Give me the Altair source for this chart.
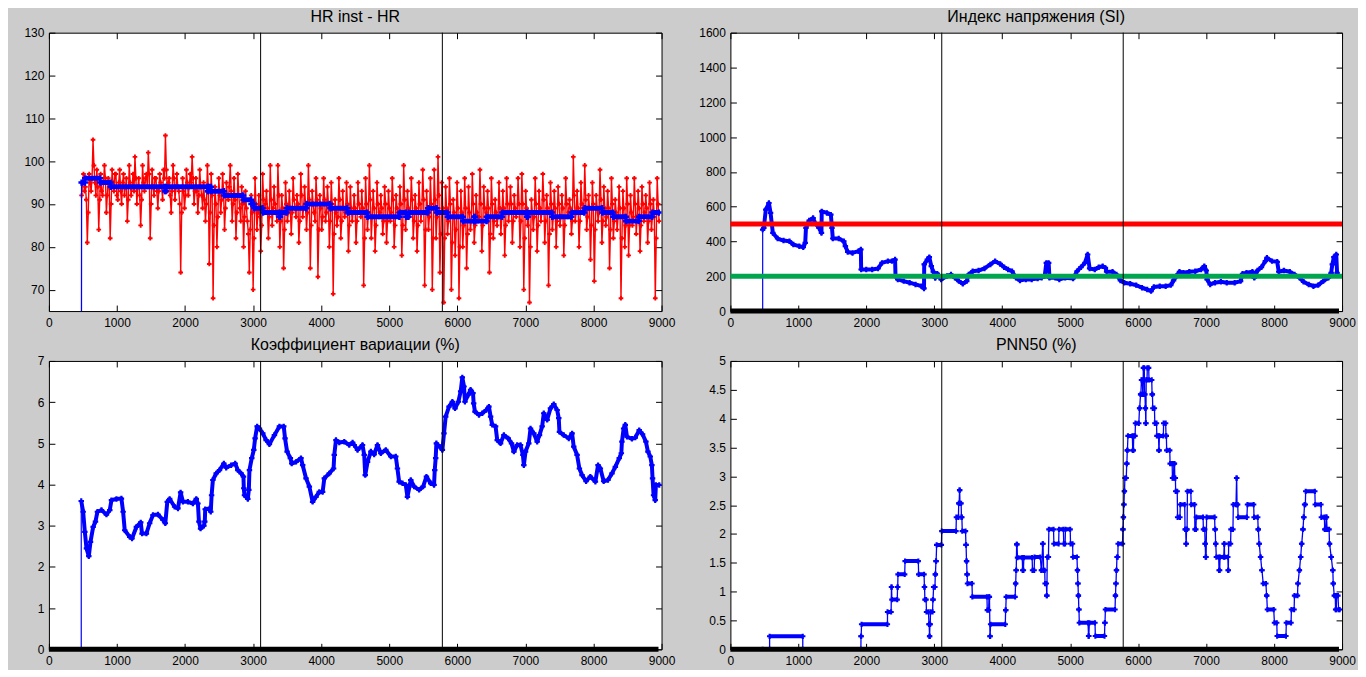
import altair as alt
import pandas as pd

# ---------------- data ----------------
X_DOMAIN = [0, 9000]
X_TICKS = [0, 1000, 2000, 3000, 4000, 5000, 6000, 7000, 8000, 9000]
EVENT_X = [3110, 5780]

TITLES = ["HR inst - HR", "Индекс напряжения (SI)", "Коэффициент вариации (%)", "PNN50 (%)"]

HR_Y_DOMAIN = [65, 130]
HR_Y_TICKS = [70, 80, 90, 100, 110, 120, 130]
SI_Y_DOMAIN = [0, 1600]
SI_Y_TICKS = [0, 200, 400, 600, 800, 1000, 1200, 1400, 1600]
CV_Y_DOMAIN = [0, 7]
CV_Y_TICKS = [0, 1, 2, 3, 4, 5, 6, 7]
PNN_Y_DOMAIN = [0, 5]
PNN_Y_TICKS = [0, 0.5, 1, 1.5, 2, 2.5, 3, 3.5, 4, 4.5, 5]

# instantaneous heart rate, one value every 14 samples from 480
HR_INST_START = 480
HR_INST_STEP = 14
HR_INST = [
    92, 95, 97, 93, 94, 91, 81, 88, 97, 95, 93, 96, 105, 99, 95, 92, 98, 94, 84, 91,
    97, 93, 92, 95, 99, 96, 88, 92, 96, 94, 82, 90, 98, 95, 93, 97, 97, 92, 91, 95,
    98, 93, 90, 95, 97, 92, 94, 96, 86, 91, 99, 95, 92, 94, 97, 93, 101, 96, 90, 94,
    96, 92, 85, 91, 99, 95, 93, 96, 97, 94, 102, 97, 82, 90, 98, 94, 92, 96, 96, 93,
    89, 93, 97, 95, 94, 91, 98, 96, 106, 98, 93, 95, 96, 92, 88, 93, 99, 96, 91, 94,
    97, 94, 93, 90, 74, 88, 96, 93, 89, 92, 98, 95, 92, 94, 97, 95, 101, 96, 90, 93,
    96, 93, 88, 92, 98, 94, 92, 89, 95, 91, 86, 90, 99, 94, 76, 88, 97, 92, 68, 85,
    94, 90, 80, 87, 96, 92, 88, 91, 97, 93, 84, 89, 95, 92, 91, 94, 99, 93, 86, 90,
    96, 91, 82, 88, 97, 92, 89, 86, 94, 90, 80, 87, 93, 89, 86, 83, 74, 84, 92, 88,
    70, 82, 96, 90, 84, 88, 92, 87, 79, 85, 97, 91, 88, 90, 93, 89, 82, 87, 99, 91,
    85, 89, 94, 90, 88, 86, 99, 92, 80, 86, 92, 89, 75, 84, 95, 90, 86, 88, 93, 89,
    83, 88, 96, 91, 89, 87, 92, 90, 81, 86, 97, 92, 87, 89, 94, 90, 84, 88, 99, 91,
    75, 85, 93, 90, 88, 86, 96, 91, 73, 84, 92, 89, 84, 87, 96, 91, 86, 88, 94, 90,
    80, 86, 95, 90, 69, 83, 91, 88, 85, 87, 96, 91, 82, 86, 93, 89, 87, 88, 95, 90,
    79, 85, 94, 89, 86, 88, 92, 89, 81, 86, 95, 90, 88, 87, 93, 89, 71, 82, 96, 90,
    84, 88, 99, 91, 82, 87, 93, 89, 79, 85, 95, 90, 87, 88, 92, 89, 83, 86, 94, 90,
    81, 86, 93, 89, 86, 88, 96, 91, 80, 85, 92, 89, 88, 87, 94, 90, 78, 85, 99, 91,
    84, 88, 93, 89, 87, 88, 96, 91, 82, 86, 92, 89, 79, 85, 95, 90, 86, 88, 98, 91,
    71, 84, 93, 89, 84, 87, 96, 90, 70, 82, 98, 91, 82, 87, 101, 92, 74, 83, 95, 89,
    67, 82, 94, 89, 83, 86, 96, 90, 70, 81, 91, 88, 78, 84, 95, 89, 68, 80, 93, 88,
    80, 85, 96, 89, 75, 83, 94, 88, 84, 86, 97, 90, 81, 85, 92, 88, 86, 87, 98, 90,
    79, 85, 94, 89, 87, 88, 93, 89, 74, 83, 96, 90, 82, 86, 91, 88, 85, 87, 95, 89,
    83, 87, 93, 89, 78, 85, 96, 90, 86, 88, 94, 90, 81, 86, 92, 89, 87, 88, 96, 90,
    80, 86, 97, 90, 70, 82, 93, 89, 85, 87, 67, 80, 91, 88, 84, 87, 96, 90, 79, 85,
    93, 89, 86, 88, 97, 91, 81, 86, 92, 89, 71, 83, 95, 90, 84, 87, 93, 89, 80, 86,
    94, 90, 85, 87, 92, 89, 78, 85, 96, 90, 87, 88, 91, 89, 83, 86, 101, 92, 86, 88,
    93, 89, 80, 86, 95, 90, 88, 89, 99, 91, 84, 87, 92, 89, 77, 85, 95, 90, 72, 84,
    92, 89, 86, 88, 98, 91, 81, 86, 94, 89, 85, 87, 93, 89, 75, 84, 96, 90, 82, 86,
    91, 88, 84, 87, 94, 89, 68, 82, 93, 89, 80, 85, 96, 90, 78, 85, 92, 88, 85, 87,
    96, 90, 83, 87, 93, 89, 79, 85, 94, 90, 86, 88, 92, 89, 81, 86, 95, 90, 84, 87,
    91, 87, 68, 82, 96, 90, 86,
]

# mean HR, stepwise levels: start x, end x, value
HR_LEVEL_X1 = [475, 480, 532, 755, 910, 1705, 1720, 2335, 2350, 2385, 2575, 2860, 2975, 3015, 3145,
               3385, 3400, 3495, 3785, 4135, 4390, 4680, 5155, 5250, 5285, 5570, 5700, 5860, 6085,
               6250, 6265, 6435, 6660, 7025, 7040, 7395, 7680, 7870, 8130, 8290, 8480, 8670, 8865]
HR_LEVEL_X2 = [475, 527, 750, 905, 1700, 1715, 2330, 2345, 2380, 2570, 2855, 2970, 3010, 3140, 3380,
               3395, 3490, 3780, 4130, 4385, 4675, 5150, 5245, 5280, 5565, 5695, 5855, 6080, 6245,
               6260, 6430, 6655, 7020, 7035, 7390, 7675, 7865, 8125, 8285, 8475, 8665, 8860, 8960]
HR_LEVEL_V = [0, 95, 96, 95, 94, 93, 94, 93, 94, 93, 92, 91, 90, 89, 88,
              87, 88, 89, 90, 89, 88, 87, 88, 87, 88, 89, 88, 87, 86,
              87, 86, 87, 88, 87, 88, 87, 88, 89, 88, 87, 86, 87, 88]

# stress index (SI)
SI_X = [475, 475, 492, 521, 567, 591, 608, 625, 695, 782, 869, 927, 1014, 1072, 1101, 1112, 1159, 1217,
        1246, 1304, 1340, 1344, 1420, 1478, 1495, 1507, 1594, 1669, 1692, 1727, 1797, 1884, 1920, 1924,
        1999, 2086, 2173, 2231, 2318, 2376, 2423, 2430, 2463, 2550, 2637, 2724, 2811, 2849, 2852, 2898,
        2927, 2956, 2985, 3014, 3043, 3101, 3188, 3246, 3304, 3362, 3420, 3478, 3507, 3565, 3652, 3739,
        3826, 3895, 3970, 4028, 4086, 4144, 4202, 4260, 4347, 4434, 4521, 4579, 4625, 4649, 4683, 4695,
        4782, 4840, 4927, 5043, 5101, 5159, 5217, 5257, 5286, 5362, 5420, 5478, 5518, 5536, 5623, 5681,
        5739, 5797, 5883, 5970, 6057, 6133, 6190, 6231, 6318, 6405, 6480, 6521, 6562, 6608, 6666, 6753,
        6840, 6927, 6973, 7002, 7014, 7060, 7130, 7217, 7304, 7420, 7507, 7536, 7594, 7681, 7709, 7756,
        7814, 7872, 7895, 7970, 8046, 8069, 8144, 8231, 8301, 8376, 8434, 8510, 8579, 8649, 8724, 8799,
        8840, 8857, 8880, 8915, 8927]
SI_V = [0, 468, 478, 583, 621, 564, 506, 449, 417, 405, 401, 382, 373, 367, 392, 478, 520, 535,
        506, 478, 449, 573, 564, 554, 478, 417, 417, 401, 373, 340, 334, 344, 354, 239,
        239, 239, 245, 277, 287, 287, 296, 201, 182, 172, 163, 153, 143, 130, 268, 296,
        310, 258, 226, 190, 215, 182, 201, 210, 191, 172, 157, 172, 210, 229, 233, 245,
        268, 287, 271, 252, 239, 229, 191, 176, 182, 182, 187, 191, 201, 277, 277, 191,
        191, 182, 191, 187, 229, 252, 277, 325, 245, 239, 252, 258, 248, 226, 226, 210,
        176, 163, 157, 149, 134, 124, 115, 138, 143, 143, 149, 176, 201, 226, 220, 226,
        229, 239, 258, 233, 182, 153, 163, 168, 163, 163, 172, 214, 220, 226, 191, 233,
        252, 287, 306, 287, 283, 226, 233, 226, 210, 191, 168, 153, 143, 149, 172, 191,
        220, 268, 310, 325, 220]
SI_HIGH = 500
SI_LOW = 200

# coefficient of variation (%)
CV_X = [475, 475, 503, 528, 552, 586, 611, 650, 684, 713, 772, 845, 894, 919, 992, 1065, 1090, 1114,
        1187, 1221, 1285, 1349, 1368, 1432, 1480, 1529, 1603, 1676, 1710, 1739, 1774, 1847, 1896, 1935,
        1969, 2042, 2116, 2165, 2189, 2204, 2228, 2277, 2290, 2296, 2360, 2378, 2390, 2409, 2458, 2506,
        2570, 2604, 2677, 2736, 2775, 2824, 2858, 2863, 2873, 2922, 2937, 2946, 2980, 3010, 3029, 3059,
        3093, 3142, 3191, 3239, 3313, 3386, 3450, 3469, 3499, 3547, 3567, 3630, 3703, 3728, 3777, 3826,
        3874, 3923, 3972, 4021, 4046, 4119, 4182, 4192, 4217, 4265, 4339, 4412, 4461, 4485, 4534, 4607,
        4632, 4647, 4681, 4730, 4778, 4827, 4876, 4949, 5023, 5096, 5120, 5145, 5194, 5243, 5267, 5316,
        5365, 5438, 5497, 5546, 5609, 5658, 5668, 5682, 5692, 5741, 5780, 5804, 5829, 5878, 5927, 5966,
        6015, 6049, 6073, 6098, 6112, 6161, 6195, 6230, 6240, 6259, 6318, 6367, 6425, 6464, 6489, 6513,
        6562, 6586, 6635, 6684, 6748, 6796, 6831, 6879, 6928, 6963, 6977, 7002, 7050, 7075, 7124, 7173,
        7207, 7246, 7270, 7319, 7368, 7417, 7466, 7490, 7500, 7563, 7637, 7686, 7710, 7759, 7793, 7832,
        7891, 7954, 8028, 8067, 8101, 8150, 8213, 8272, 8321, 8379, 8409, 8418, 8443, 8467, 8492, 8565,
        8614, 8672, 8721, 8770, 8800, 8834, 8858, 8868, 8883, 8907, 8917, 8966]
CV_V = [0, 3.60, 3.34, 2.85, 2.45, 2.26, 2.61, 2.97, 3.10, 3.34, 3.38, 3.27, 3.38, 3.62, 3.65, 3.66, 3.34, 2.89,
        2.73, 2.69, 2.97, 3.08, 2.81, 2.81, 3.06, 3.26, 3.27, 3.14, 3.06, 3.58, 3.65, 3.46, 3.42, 3.81,
        3.58, 3.58, 3.54, 3.65, 3.54, 3.10, 2.93, 3.00, 3.10, 3.40, 3.42, 3.34, 3.74, 4.11, 4.27, 4.35,
        4.51, 4.41, 4.47, 4.51, 4.35, 4.27, 4.19, 3.91, 3.74, 3.65, 3.87, 4.35, 4.64, 4.84, 5.12, 5.41,
        5.36, 5.24, 5.08, 4.98, 5.20, 5.41, 5.41, 5.12, 4.80, 4.64, 4.51, 4.55, 4.64, 4.47, 4.15, 3.95,
        3.58, 3.70, 3.82, 3.82, 4.15, 4.27, 4.39, 4.72, 5.08, 5.02, 5.04, 4.96, 5.02, 4.96, 4.84, 4.96,
        4.72, 4.23, 4.55, 4.80, 4.73, 4.96, 4.76, 4.84, 4.68, 4.68, 4.39, 4.07, 4.03, 3.99, 3.70, 4.11,
        3.95, 3.87, 3.95, 4.19, 4.03, 3.99, 4.35, 4.64, 5.00, 4.92, 4.84, 5.24, 5.65, 5.89, 6.01, 5.85,
        6.01, 6.26, 6.60, 6.38, 6.01, 6.18, 6.30, 6.22, 5.97, 5.77, 5.69, 5.73, 5.81, 5.89, 5.65, 5.45,
        5.41, 5.08, 5.00, 5.20, 5.12, 5.00, 4.80, 4.96, 4.96, 4.72, 4.47, 4.80, 5.00, 5.36, 5.24, 5.04,
        5.20, 5.41, 5.73, 5.57, 5.85, 5.95, 5.81, 5.61, 5.28, 5.20, 5.12, 5.24, 4.92, 4.72, 4.39, 4.23,
        4.08, 4.19, 4.07, 4.47, 4.39, 4.08, 4.11, 4.27, 4.43, 4.64, 4.76, 5.04, 5.36, 5.45, 5.16, 5.11,
        5.14, 5.32, 5.22, 5.04, 4.80, 4.68, 4.47, 4.15, 3.74, 3.62, 3.99, 3.99]

# PNN50 (%), stepwise levels: start x, end x, value
PNN_LEVELS = [
    (475, 577, 0), (577, 1065, 0.226), (1065, 1920, 0), (1922, 1924, 0.226), (1930, 2311, 0.434),
    (2312, 2365, 0.648), (2370, 2372, 1.08), (2376, 2455, 0.862), (2460, 2462, 1.08), (2466, 2565, 1.30),
    (2570, 2765, 1.53), (2770, 2850, 1.30), (2855, 2857, 1.08), (2862, 2880, 0.862), (2885, 2915, 0.648),
    (2922, 2925, 0.434), (2930, 2932, 0.226), (2936, 2940, 0.434), (2945, 2975, 0.648), (2980, 2982, 0.862),
    (2990, 3010, 1.08), (3015, 3017, 1.30), (3025, 3027, 1.53), (3035, 3105, 1.81), (3110, 3320, 2.05),
    (3325, 3355, 2.29), (3360, 3366, 2.53), (3372, 3374, 2.76), (3378, 3395, 2.53), (3400, 3406, 2.29),
    (3412, 3460, 2.05), (3466, 3468, 1.81), (3474, 3476, 1.53), (3482, 3484, 1.30), (3488, 3555, 1.14),
    (3560, 3775, 0.91), (3780, 3800, 0.68), (3805, 3812, 0.91), (3820, 3822, 0.226), (3828, 4045, 0.434),
    (4050, 4052, 0.68), (4058, 4190, 0.91), (4196, 4198, 1.14), (4204, 4206, 1.37), (4212, 4218, 1.82),
    (4224, 4295, 1.59), (4300, 4312, 1.37), (4318, 4440, 1.59), (4445, 4470, 1.37), (4475, 4560, 1.60),
    (4575, 4580, 1.37), (4595, 4600, 1.83), (4610, 4625, 1.37), (4630, 4650, 1.14), (4655, 4657, 0.93),
    (4662, 4680, 1.60), (4686, 4755, 2.08), (4760, 4830, 1.83), (4835, 4900, 2.08), (4905, 4925, 1.83),
    (4930, 5000, 2.08), (5005, 5035, 1.83), (5040, 5100, 1.60), (5106, 5108, 1.37), (5113, 5115, 1.14),
    (5120, 5122, 0.93), (5127, 5129, 0.69), (5134, 5262, 0.46), (5270, 5274, 0.23), (5282, 5365, 0.46),
    (5370, 5505, 0.23), (5510, 5512, 0.46), (5518, 5660, 0.69), (5665, 5667, 0.93), (5672, 5674, 1.14),
    (5680, 5682, 1.37), (5688, 5700, 1.60), (5705, 5770, 1.83), (5775, 5777, 2.08), (5782, 5784, 2.29),
    (5789, 5791, 2.51), (5797, 5799, 2.74), (5805, 5825, 2.97), (5832, 5834, 3.22), (5840, 5842, 3.45),
    (5850, 5915, 3.70), (5920, 5930, 3.45), (5935, 5955, 3.70), (5960, 6010, 3.92), (6020, 6022, 4.18),
    (6035, 6040, 4.42), (6048, 6062, 4.67), (6068, 6072, 4.42), (6076, 6090, 4.88), (6095, 6100, 4.42),
    (6106, 6108, 4.18), (6112, 6114, 3.92), (6118, 6130, 4.67), (6135, 6155, 4.88), (6160, 6200, 4.67),
    (6205, 6210, 4.42), (6215, 6240, 4.18), (6245, 6270, 3.92), (6275, 6300, 3.70), (6305, 6308, 3.45),
    (6312, 6370, 3.70), (6375, 6405, 3.92), (6410, 6415, 3.70), (6420, 6465, 3.45), (6470, 6500, 3.22),
    (6505, 6520, 2.97), (6525, 6535, 3.22), (6540, 6548, 2.97), (6552, 6575, 2.74), (6580, 6615, 2.29),
    (6620, 6685, 2.51), (6690, 6700, 2.08), (6705, 6707, 1.83), (6712, 6720, 2.08), (6725, 6775, 2.74),
    (6780, 6830, 2.51), (6835, 6850, 2.08), (6855, 6955, 2.29), (6960, 6980, 2.08), (6985, 6987, 1.83),
    (6992, 7000, 1.60), (7007, 7125, 2.29), (7130, 7135, 2.08), (7140, 7142, 1.83), (7150, 7185, 1.60),
    (7190, 7200, 1.37), (7205, 7260, 1.60), (7266, 7268, 1.83), (7272, 7320, 1.60), (7325, 7327, 1.37),
    (7332, 7360, 1.83), (7365, 7395, 2.08), (7400, 7440, 2.51), (7448, 7450, 2.97), (7455, 7465, 2.51),
    (7471, 7600, 2.29), (7608, 7700, 2.51), (7705, 7760, 2.29), (7766, 7768, 2.08), (7780, 7782, 1.83),
    (7800, 7802, 1.60), (7820, 7822, 1.37), (7840, 7880, 1.14), (7890, 7892, 0.93), (7901, 7995, 0.69),
    (8005, 8040, 0.46), (8045, 8175, 0.23), (8180, 8250, 0.46), (8255, 8295, 0.69), (8300, 8345, 0.93),
    (8350, 8352, 1.14), (8372, 8374, 1.37), (8390, 8392, 1.60), (8405, 8407, 1.83), (8424, 8426, 2.08),
    (8436, 8438, 2.29), (8448, 8460, 2.51), (8465, 8600, 2.74), (8605, 8690, 2.51), (8695, 8740, 2.29),
    (8745, 8760, 2.08), (8768, 8772, 2.29), (8780, 8810, 2.08), (8815, 8817, 1.83), (8840, 8842, 1.60),
    (8863, 8865, 1.37), (8870, 8872, 1.14), (8885, 8900, 0.93), (8905, 8915, 0.69), (8920, 8940, 0.93),
    (8950, 8965, 0.69),
]

# zero baseline series drawn along y = 0
BASE_X = [0, 8955]
BASE_V = [0, 0]

# ---------------- helpers ----------------
BLUE = "#0000ff"
RED = "#ff0000"
GREEN = "#00a550"
FONT = "Liberation Sans"
TICK = 6


def xs():
    return alt.Scale(domain=X_DOMAIN, nice=False, zero=False)


def ys(dom):
    return alt.Scale(domain=dom, nice=False, zero=False)


def series_df(x, v):
    return pd.DataFrame({"x": x, "y": v, "i": list(range(len(x)))})


def levels_df(levels):
    return pd.DataFrame({"x": [a for a, b, c in levels], "x2": [b for a, b, c in levels],
                         "y": [c for a, b, c in levels]})


def level_points(levels):
    xs_, vs_ = [], []
    for a, b, c in levels:
        xs_ += [a, b]
        vs_ += [c, c]
    return series_df(xs_, vs_)


def X(name="x"):
    return alt.X(f"{name}:Q", scale=xs(), axis=None)


def Y(dom, name="y"):
    return alt.Y(f"{name}:Q", scale=ys(dom), axis=None)


def axis_layers(dom, yticks, yfmt):
    df = pd.DataFrame({"x": X_DOMAIN, "y": dom})
    main = alt.Chart(df).mark_point(opacity=0, clip=True).encode(
        x=alt.X("x:Q", scale=xs(), axis=alt.Axis(
            orient="bottom", values=X_TICKS, format="d", title=None, tickSize=TICK, offset=-TICK,
            labelPadding=6, domain=False, grid=False, labelFlush=False, labelOverlap=False)),
        y=alt.Y("y:Q", scale=ys(dom), axis=alt.Axis(
            orient="left", values=yticks, format=yfmt, title=None, tickSize=TICK, offset=-TICK,
            labelPadding=5, domain=False, grid=False, labelFlush=False, labelOverlap=False)),
    )
    opp = alt.Chart(df).mark_point(opacity=0, clip=True).encode(
        x=alt.X("x:Q", scale=xs(), axis=alt.Axis(
            orient="top", values=X_TICKS, labels=False, title=None, tickSize=TICK, offset=-TICK,
            domain=False, grid=False, minExtent=0, maxExtent=0)),
        y=alt.Y("y:Q", scale=ys(dom), axis=alt.Axis(
            orient="right", values=yticks, labels=False, title=None, tickSize=TICK, offset=-TICK,
            domain=False, grid=False, minExtent=0, maxExtent=0)),
    )
    return [main, opp]


def events(dom):
    return alt.Chart(pd.DataFrame({"x": EVENT_X})).mark_rule(color="black", strokeWidth=1).encode(x=X())


def baseline(dom):
    return alt.Chart(series_df(BASE_X, BASE_V)).mark_line(
        color="black", strokeWidth=5, clip=False, strokeCap="butt").encode(x=X(), y=Y(dom), order="i:Q")


def curve_layers(x, v, dom):
    full = series_df(x, v)
    body = full.iloc[1:]
    thin = alt.Chart(full).mark_line(color=BLUE, strokeWidth=1.2, clip=True).encode(
        x=X(), y=Y(dom), order="i:Q")
    thick = alt.Chart(body).mark_line(color=BLUE, strokeWidth=4, strokeJoin="round", clip=True).encode(
        x=X(), y=Y(dom), order="i:Q")
    pts = alt.Chart(body).mark_point(shape="cross", filled=True, size=30, color=BLUE, opacity=1,
                                     clip=True).encode(x=X(), y=Y(dom))
    return [thin, thick, pts]


def step_layers(levels, dom, width, size):
    pts = level_points(levels)
    thin = alt.Chart(pts).mark_line(color=BLUE, strokeWidth=1.3, clip=True).encode(
        x=X(), y=Y(dom), order="i:Q")
    bars = alt.Chart(levels_df(levels)).mark_rule(color=BLUE, strokeWidth=width, clip=True).encode(
        x=X(), x2="x2:Q", y=Y(dom))
    marks = alt.Chart(pts).mark_point(shape="cross", filled=True, size=size, color=BLUE, opacity=1,
                                      clip=True).encode(x=X(), y=Y(dom))
    return [thin, bars, marks]


def panel(layers, title, w, h):
    return alt.layer(*layers).resolve_axis(x="independent", y="independent").properties(
        width=w, height=h, title=alt.TitleParams(title, anchor="middle", baseline="alphabetic", offset=-11))


# ---------------- panels ----------------
hr_x = [HR_INST_START + HR_INST_STEP * k for k in range(len(HR_INST))]
hr_df = series_df(hr_x, HR_INST)
hr_levels = list(zip(HR_LEVEL_X1, HR_LEVEL_X2, HR_LEVEL_V))

tl_layers = axis_layers(HR_Y_DOMAIN, HR_Y_TICKS, "d") + [
    alt.Chart(hr_df).mark_line(color=RED, strokeWidth=1.4, clip=True).encode(x=X(), y=Y(HR_Y_DOMAIN), order="i:Q"),
    alt.Chart(hr_df).mark_point(shape="cross", filled=True, size=22, color=RED, opacity=1, clip=True).encode(
        x=X(), y=Y(HR_Y_DOMAIN)),
] + step_layers(hr_levels, HR_Y_DOMAIN, 5, 40) + [events(HR_Y_DOMAIN)]

tr_layers = axis_layers(SI_Y_DOMAIN, SI_Y_TICKS, "d") + curve_layers(SI_X, SI_V, SI_Y_DOMAIN) + [
    alt.Chart(pd.DataFrame({"y": [SI_HIGH]})).mark_rule(color=RED, strokeWidth=5).encode(y=Y(SI_Y_DOMAIN)),
    alt.Chart(pd.DataFrame({"y": [SI_LOW]})).mark_rule(color=GREEN, strokeWidth=5).encode(y=Y(SI_Y_DOMAIN)),
    events(SI_Y_DOMAIN), baseline(SI_Y_DOMAIN),
]

bl_layers = axis_layers(CV_Y_DOMAIN, CV_Y_TICKS, "d") + curve_layers(CV_X, CV_V, CV_Y_DOMAIN) + [
    events(CV_Y_DOMAIN), baseline(CV_Y_DOMAIN)]

br_layers = axis_layers(PNN_Y_DOMAIN, PNN_Y_TICKS, ".1~f") + step_layers(PNN_LEVELS, PNN_Y_DOMAIN, 4, 28) + [
    events(PNN_Y_DOMAIN), baseline(PNN_Y_DOMAIN)]

tl = panel(tl_layers, TITLES[0], 614, 279)
tr = panel(tr_layers, TITLES[1], 613, 279)
bl = panel(bl_layers, TITLES[2], 614, 289)
br = panel(br_layers, TITLES[3], 613, 289)

chart = alt.concat(tl, tr, bl, br, columns=2, spacing={"row": 50, "column": 69}, bounds="flush").properties(
    padding={"left": 15, "top": -1, "right": 2, "bottom": 2}
).configure(background="#cccccc").configure_view(
    fill="white", stroke="black", strokeWidth=1
).configure_axis(
    labelFont=FONT, labelFontSize=12, labelColor="black", tickColor="black", tickWidth=1
).configure_title(
    font=FONT, fontSize=16, fontWeight="normal", color="black"
)

chart.save("out.html", embed_options={"renderer": "svg", "actions": False})
